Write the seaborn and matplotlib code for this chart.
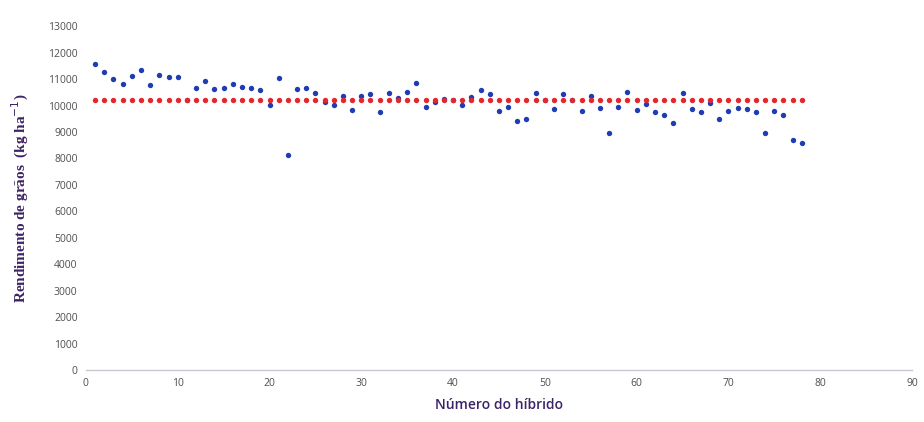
import numpy as np
import pandas as pd
import matplotlib
matplotlib.use("Agg")
import matplotlib.pyplot as plt
import seaborn as sns

# Grain yield per hybrid (kg/ha)
hibrido = list(range(1, 79))
rendimento = [
    11560, 11270, 10990, 10820, 11110, 11350, 10770, 11150, 11060, 11070,
    10200, 10650, 10910, 10610, 10650, 10820, 10700, 10650, 10570, 10030,
    11040, 8130, 10610, 10660, 10490, 10140, 10030, 10370, 9830, 10370,
    10450, 9740, 10490, 10290, 10530, 10860, 9940, 10140, 10240, 10200,
    10030, 10330, 10580, 10420, 9780, 9950, 9410, 9490, 10490, 10200,
    9860, 10450, 10200, 9790, 10370, 9900, 8960, 9950, 10530, 9830,
    10050, 9740, 9660, 9330, 10490, 9870, 9740, 10110, 9490, 9810,
    9890, 9860, 9740, 8960, 9790, 9660, 8700, 8580,
]
media = 10200

x_ticks = list(range(0, 91, 10))
y_ticks = list(range(0, 13001, 1000))

df = pd.DataFrame({"hibrido": hibrido, "rendimento": rendimento})
df_media = pd.DataFrame({"hibrido": hibrido, "media": [media] * len(hibrido)})

sns.set_theme(style="white")
plt.rcParams["font.family"] = ["Open Sans", "DejaVu Sans"]

fig = plt.figure(figsize=(9.24, 4.22), dpi=100)
ax = fig.add_axes([0.093, 0.123, 0.894, 0.815])

sns.scatterplot(data=df, x="hibrido", y="rendimento", ax=ax,
                color="#1f3db3", s=15, linewidth=0, zorder=3)
sns.scatterplot(data=df_media, x="hibrido", y="media", ax=ax,
                color="#e5262b", s=15, linewidth=0, zorder=4)

ax.set_xlim(0, 90)
ax.set_ylim(0, 13000)
ax.set_xticks(x_ticks)
ax.set_yticks(y_ticks)
ax.tick_params(axis="both", labelsize=7.5, colors="#4f4f4f", length=0, pad=6)

for side in ["top", "right", "left"]:
    ax.spines[side].set_visible(False)
ax.spines["bottom"].set_color("#c8c8d0")
ax.spines["bottom"].set_linewidth(1.0)

ax.set_xlabel("Número do híbrido", fontsize=10, color="#3d2366",
              fontweight="semibold", labelpad=6)
ax.set_ylabel("Rendimento de grãos  (kg ha$^{-1}$)", fontsize=11,
              color="#3d2366", fontweight="bold",
              family=["Liberation Serif", "DejaVu Serif"], labelpad=12)

fig.savefig("out.png", dpi=100, facecolor="white")
